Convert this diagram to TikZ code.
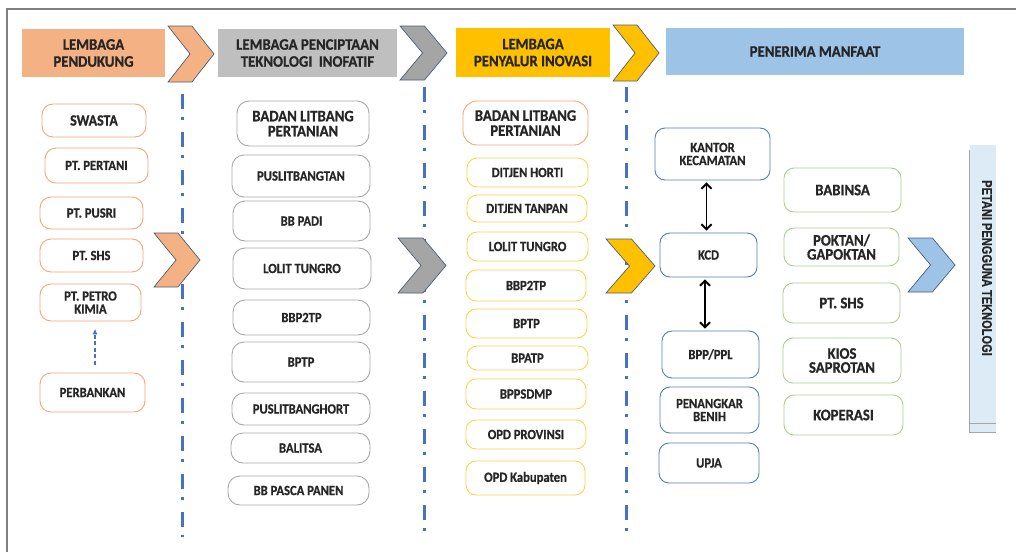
\documentclass[tikz,border=0pt]{standalone}
\usepackage{fontspec}
\usetikzlibrary{arrows.meta}
\newfontfamily\hfont{Carlito Bold}[FakeStretch=0.92, FakeBold=0.8]
\newfontfamily\nfont{Carlito Bold}[FakeStretch=0.90, FakeBold=0.8]
\newfontfamily\vfont{Liberation Sans Bold}[FakeStretch=0.79, FakeBold=0.8]
\definecolor{hor}{HTML}{F4B183}
\definecolor{hgray}{HTML}{BFBFBF}
\definecolor{chgray}{HTML}{A5A5A5}
\definecolor{hgold}{HTML}{FFC000}
\definecolor{hblue}{HTML}{9DC3E6}
\definecolor{chevline}{HTML}{4D5F7A}
\definecolor{dashblue}{HTML}{4472C4}
\definecolor{orline}{HTML}{F2A675}
\definecolor{grline}{HTML}{A8A8A8}
\definecolor{goline}{HTML}{FFD24D}
\definecolor{blline}{HTML}{4F81B5}
\definecolor{gnline}{HTML}{A9D18E}
\definecolor{vbfill}{HTML}{DDEBF7}
\definecolor{vbline}{HTML}{A6A6A6}
\definecolor{framec}{HTML}{808080}
\definecolor{txt}{HTML}{262626}
\newcommand\chev[5]{%
  \filldraw[fill=#5,draw=chevline,line width=0.7,line join=miter]
  (#1,#2) -- ({#1+#3*0.52},#2) -- ({#1+#3},{#2+#4*0.5}) -- ({#1+#3*0.52},{#2+#4})
  -- (#1,{#2+#4}) -- ({#1+#3*0.48},{#2+#4*0.5}) -- cycle;}
\tikzset{
  hdr/.style={inner sep=0, align=center, text=txt, font=\hfont\fontsize{16}{17}\selectfont},
  nbox/.style={draw, rounded corners=11, line width=0.9, fill=white, inner sep=0, align=center,
    text=txt, font=\nfont\fontsize{14}{13}\selectfont},
  bigtxt/.style={font=\hfont\fontsize{16}{16}\selectfont},
  orn/.style={nbox, draw=orline},
  gry/.style={nbox, draw=grline, rounded corners=12},
  gld/.style={nbox, draw=goline, rounded corners=10},
  blu/.style={nbox, draw=blline, rounded corners=10},
  grn/.style={nbox, draw=gnline, rounded corners=10, bigtxt},
  dashdotline/.style={dashblue, line width=3, dash pattern=on 15pt off 8pt on 3pt off 12pt},
  dblarrow/.style={black, line width=1.9, {Straight Barb[length=5pt,width=10pt]}-{Straight Barb[length=5pt,width=10pt]}, shorten <=2pt, shorten >=2pt},
  dasharrow/.style={dashblue, line width=1.3, dash pattern=on 4pt off 2.5pt, -{Latex[length=6pt,width=5pt]}, shorten <=8pt, shorten >=7pt}
}
\begin{document}
\begin{tikzpicture}[x=1pt,y=-1pt]
\useasboundingbox (0,0) rectangle (1016,552);
\fill[white] (0,0) rectangle (1016,552);
% frame
\draw[framec, line width=1.5] (7,552) -- (7,9) -- (1016,9);

% dash-dot separators
\draw[dashdotline] (182,94) -- (182,537);
\draw[dashdotline] (424,87) -- (424,537);
\draw[dashdotline] (626,87) -- (626,537);

% headers
\node[hdr, fill=hor, minimum width=143, minimum height=48] (h1) at (93.5,53) {LEMBAGA\\PENDUKUNG};
\node[hdr, fill=hgray, minimum width=179, minimum height=48] (h2) at (307.5,53) {LEMBAGA PENCIPTAAN\\TEKNOLOGI\ \ INOFATIF};
\node[hdr, fill=hgold, minimum width=154, minimum height=49] (h3) at (533,52.5) {LEMBAGA\\PENYALUR INOVASI};
\node[hdr, fill=hblue, minimum width=298, minimum height=47] (h4) at (815,51.5) {PENERIMA MANFAAT};

% chevrons
\chev{168}{26}{46}{56}{hor}
\chev{400}{26}{47}{54}{chgray}
\chev{613}{25}{46}{56}{hgold}
\chev{154}{233}{46}{54}{hor}
\chev{398}{238}{48}{55}{chgray}
\chev{606}{239}{49}{54}{hgold}
\chev{908}{238}{47}{54}{hblue}

% column 1
\node[orn, minimum width=104, minimum height=33, font=\nfont\fontsize{15.5}{15}\selectfont] (swasta) at (94,120.5) {SWASTA};
\node[orn, minimum width=103, minimum height=35] (pertani) at (96.5,165.5) {PT. PERTANI};
\node[orn, minimum width=103, minimum height=32] (pusri) at (91.5,213) {PT. PUSRI};
\node[orn, minimum width=103, minimum height=33] (shs) at (91.5,255.5) {PT. SHS};
\node[orn, minimum width=101, minimum height=37] (petro) at (90.5,302.5) {PT. PETRO\\KIMIA};
\node[orn, minimum width=105, minimum height=39] (perb) at (92.5,392.5) {PERBANKAN};
\draw[dasharrow] ([xshift=2.5pt]perb.north) -- ([xshift=2.5pt]perb.north |- petro.south);

% column 2
\node[gry, minimum width=132, minimum height=45, font=\hfont\fontsize{16}{15}\selectfont] (lit1) at (303,123.5) {BADAN LITBANG\\PERTANIAN};
\node[gry, minimum width=138, minimum height=42] (pustan) at (301,176) {PUSLITBANGTAN};
\node[gry, minimum width=137, minimum height=40] (bbpadi) at (301.5,221) {BB PADI};
\node[gry, minimum width=138, minimum height=41] (lolit1) at (302,268.5) {LOLIT TUNGRO};
\node[gry, minimum width=137, minimum height=35] (bbp1) at (301.5,317.5) {BBP2TP};
\node[gry, minimum width=138, minimum height=40] (bptp1) at (301,362) {BPTP};
\node[gry, minimum width=138, minimum height=32] (pushort) at (301,409) {PUSLITBANGHORT};
\node[gry, minimum width=139, minimum height=30] (balitsa) at (300.5,448) {BALITSA};
\node[gry, minimum width=141, minimum height=29] (pasca) at (298.5,490.5) {BB PASCA PANEN};

% column 3
\node[nbox, draw=orline, rounded corners=14, minimum width=125, minimum height=44, font=\hfont\fontsize{16}{15}\selectfont] (lit2) at (525.5,123) {BADAN LITBANG\\PERTANIAN};
\node[gld, minimum width=121, minimum height=29] (horti) at (527.5,172.5) {DITJEN HORTI};
\node[gld, minimum width=120, minimum height=27] (tanpan) at (527,208.5) {DITJEN TANPAN};
\node[gld, minimum width=121, minimum height=29] (lolit2) at (527.5,246.5) {LOLIT TUNGRO};
\node[gld, minimum width=120, minimum height=31] (bbp2) at (526,285.5) {BBP2TP};
\node[gld, minimum width=121, minimum height=29] (bptp2) at (526.5,323.5) {BPTP};
\node[gld, minimum width=121, minimum height=24] (bpatp) at (527.5,358) {BPATP};
\node[gld, minimum width=120, minimum height=30] (bppsdmp) at (526,394) {BPPSDMP};
\node[gld, minimum width=120, minimum height=29] (opdprov) at (526,434.5) {OPD PROVINSI};
\node[gld, minimum width=119, minimum height=34] (opdkab) at (525.5,478) {OPD Kabupaten};

% column 4
\node[blu, minimum width=115, minimum height=52] (kantor) at (712.5,154) {KANTOR\\KECAMATAN};
\node[blu, minimum width=97, minimum height=44] (kcd) at (708.5,255) {KCD};
\node[blu, minimum width=97, minimum height=47] (bpp) at (710.5,354.5) {BPP/PPL};
\node[blu, minimum width=99, minimum height=46] (penangkar) at (709.5,410) {PENANGKAR\\BENIH};
\node[blu, minimum width=100, minimum height=40] (upja) at (709,463) {UPJA};
\draw[dblarrow] ([xshift=-2pt]kcd.north) -- ([xshift=-2pt]kcd.north |- kantor.south);
\draw[dblarrow] ([xshift=-3.5pt]kcd.south) -- ([xshift=-3.5pt]kcd.south |- bpp.north);

% column 5
\node[grn, minimum width=117, minimum height=44] (babinsa) at (842.5,190) {BABINSA};
\node[grn, minimum width=115, minimum height=38, font=\hfont\fontsize{16}{14}\selectfont] (poktan) at (841.5,247) {POKTAN/\\GAPOKTAN};
\node[grn, minimum width=117, minimum height=40] (shs2) at (841.5,303) {PT. SHS};
\node[grn, minimum width=118, minimum height=45, font=\hfont\fontsize{16}{14}\selectfont] (kios) at (842,360.5) {KIOS\\SAPROTAN};
\node[grn, minimum width=119, minimum height=40] (koperasi) at (843.5,415) {KOPERASI};

% petani box
\node[fill=vbfill, minimum width=26, minimum height=287, inner sep=0] (petani) at (983,288.5) {};
\draw[vbline, line width=1] ([yshift=-5pt]petani.north west) -- (petani.south west) -- (petani.south east);
\draw[vbline, line width=0.8] ([yshift=9pt]petani.south west) -- ([yshift=9pt]petani.south east);
\node[rotate=-90, inner sep=0, text=txt, font=\vfont\fontsize{14}{14}\selectfont] (petanit) at (987,268) {PETANI PENGGUNA TEKNOLOGI};
\end{tikzpicture}
\end{document}
